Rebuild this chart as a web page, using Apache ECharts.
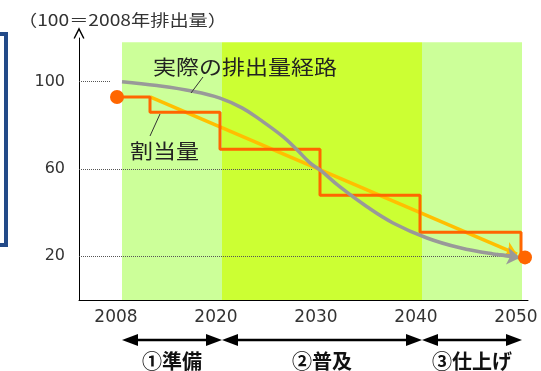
<!DOCTYPE html>
<html>
<head>
<meta charset="utf-8">
<script src="https://cdn.jsdelivr.net/npm/echarts@6/dist/echarts.min.js"></script>
<style>html,body{margin:0;padding:0;background:#fff;}#c{width:541px;height:371px;}</style>
</head>
<body>
<div id="c"></div>
<script>
// x positions are in "period units": 0=2008, 1=2020, 2=2030, 3=2040, 4=2050
const xTickPos = [0, 1, 2, 3, 4];
const xTickLabels = ['2008', '2020', '2030', '2040', '2050'];
const yTickValues = [20, 60, 100];

const titleText = '（100＝2008年排出量）';

// phases (bands)
const phaseEdges = [0, 1, 3, 4];
const phaseLabels = ['①準備', '②普及', '③仕上げ'];
const bandTop = 118;

// actual emission path (gray curve)
const actualX = [0, 0.35, 0.71, 0.98, 1.2, 1.38, 1.61, 1.75, 1.88, 1.98, 2.18, 2.45, 2.71, 3.05, 3.38, 3.71, 3.9];
const actualY = [100, 98.2, 95.6, 92.5, 88, 82.6, 74.8, 68.8, 62.8, 59.6, 51.8, 42.7, 35.3, 28.4, 23.9, 21.1, 20.2];
const actualArrowFrom = [3.75, 20.8];
const actualArrowTo = [3.98, 19.4];

// allocation (orange step)
const allocX = [-0.05, 0.28, 0.98, 1.98, 2.98, 3.99];
const allocY = [93, 86, 69, 48, 31, 20];
const dotX = [-0.05, 4.03];
const dotY = [93, 19.5];

// straight target (yellow arrow)
const targetFrom = [0.28, 93];
const targetTo = [3.95, 21];

// dotted guide lines from the axis to the curve
const guideLevels = [100, 60, 20];
const guideEnds = [-0.12, 1.9, 3.83];

const chart = echarts.init(document.getElementById('c'), null, {renderer: 'canvas'});

const option = {
  animation: false,
  backgroundColor: '#ffffff',
  grid: {left: 79, right: 13, top: 38, bottom: 71},
  xAxis: {
    type: 'value', min: -0.43, max: 4.06,
    axisLine: {show: true, onZero: false, lineStyle: {color: '#000', width: 1}},
    axisTick: {show: false},
    splitLine: {show: false},
    axisLabel: {
      customValues: xTickPos,
      formatter: v => { const i = xTickPos.indexOf(Math.round(v * 100) / 100); return i >= 0 ? xTickLabels[i] : ''; },
      fontFamily: 'DejaVu Sans', fontSize: 17, color: '#333', margin: 9, padding: [0, 12, 0, 0]
    }
  },
  yAxis: {
    type: 'value', min: 0, max: 120,
    axisLine: {show: true, onZero: false, lineStyle: {color: '#000', width: 1},
      symbol: ['none', 'path://M0,12 L6,0 L12,12 L10.6,12.8 L6,3.6 L1.4,12.8 Z'], symbolSize: [11, 13], symbolOffset: [0, 5]},
    axisTick: {show: false},
    splitLine: {show: false},
    axisLabel: {
      customValues: yTickValues,
      fontFamily: 'DejaVu Sans', fontSize: 16, color: '#333', margin: 14
    }
  },
  series: [
    {
      type: 'line', data: [], z: 0, silent: true,
      markArea: {
        silent: true,
        data: phaseLabels.map((p, i) => [
          {xAxis: phaseEdges[i], yAxis: 0, itemStyle: {color: i === 1 ? '#ccff33' : '#ccff99'}},
          {xAxis: phaseEdges[i + 1], yAxis: bandTop}
        ])
      }
    },
    {
      type: 'line', data: [], z: 1, silent: true,
      markLine: {
        silent: true, symbol: ['none', 'none'], label: {show: false},
        lineStyle: {color: '#555', type: 'dotted', width: 1},
        data: guideLevels.map((lv, i) => [{coord: [-0.43, lv]}, {coord: [guideEnds[i], lv]}])
      }
    },
    {
      name: '目標', type: 'lines', coordinateSystem: 'cartesian2d', z: 3,
      polyline: false,
      symbol: ['none', 'arrow'], symbolSize: 12,
      lineStyle: {color: '#ffbf00', width: 3.5, opacity: 1},
      data: [{coords: [targetFrom, targetTo]}]
    },
    {
      name: '割当量', type: 'line', step: 'end', z: 4,
      data: allocX.map((x, i) => [x, allocY[i]]),
      showSymbol: false, symbol: 'none',
      lineStyle: {color: '#ff6600', width: 3}
    },
    {
      name: '実際の排出量経路', type: 'line', smooth: 0.4, z: 5,
      data: actualX.map((x, i) => [x, actualY[i]]),
      showSymbol: false, symbol: 'none',
      lineStyle: {color: '#999999', width: 3.5},
      markLine: {
        silent: true, symbol: ['none', 'arrow'], symbolSize: 13, label: {show: false},
        lineStyle: {color: '#999999', width: 3.5, type: 'solid'},
        data: [[{coord: actualArrowFrom}, {coord: actualArrowTo}]]
      }
    },
    {
      type: 'scatter', z: 6, symbolSize: 14,
      itemStyle: {color: '#ff6600', opacity: 1},
      data: dotX.map((x, i) => [x, dotY[i]])
    }
  ]
};
chart.setOption(option);

const px = v => chart.convertToPixel({xAxisIndex: 0, yAxisIndex: 0}, [v, 0])[0];
const arrowY = 340;
const labelY = 361;
const graphics = [];
const Z = 100;

// left dark-blue bracket
graphics.push({type: 'polyline', z: Z, shape: {points: [[0, 34], [6, 34], [6, 245], [0, 245]]}, style: {stroke: '#234a88', lineWidth: 4, fill: null}});

// title
graphics.push({type: 'text', z: Z, x: 18, y: 20, scaleX: 1.2, style: {text: titleText, fontFamily: 'Noto Sans CJK JP', fontSize: 16, fill: '#333', align: 'left', verticalAlign: 'middle'}});

// annotations
graphics.push({type: 'text', z: Z, x: 153, y: 67, scaleX: 1.15, style: {text: '実際の排出量経路', fontFamily: 'Noto Sans CJK JP', fontSize: 20, fill: '#222', align: 'left', verticalAlign: 'middle'}});
graphics.push({type: 'line', z: Z, shape: {x1: 203, y1: 77, x2: 191, y2: 93}, style: {stroke: '#333', lineWidth: 1}});
graphics.push({type: 'text', z: Z, x: 130, y: 151, scaleX: 1.15, style: {text: '割当量', fontFamily: 'Noto Sans CJK JP', fontSize: 20, fill: '#222', align: 'left', verticalAlign: 'middle'}});
graphics.push({type: 'line', z: Z, shape: {x1: 160, y1: 114, x2: 150, y2: 136}, style: {stroke: '#333', lineWidth: 1}});

// phase arrows & labels
for (let i = 0; i < phaseLabels.length; i++) {
  const a = px(phaseEdges[i]), b = px(phaseEdges[i + 1]);
  const hl = 16, hw = 6;
  graphics.push({type: 'line', z: Z, shape: {x1: a + hl - 2, y1: arrowY, x2: b - hl + 2, y2: arrowY}, style: {stroke: '#000', lineWidth: 2.5}});
  graphics.push({type: 'polygon', z: Z, shape: {points: [[a, arrowY], [a + hl, arrowY - hw], [a + hl, arrowY + hw]]}, style: {fill: '#000'}});
  graphics.push({type: 'polygon', z: Z, shape: {points: [[b, arrowY], [b - hl, arrowY - hw], [b - hl, arrowY + hw]]}, style: {fill: '#000'}});
  graphics.push({type: 'text', z: Z, x: (a + b) / 2, y: labelY, style: {text: phaseLabels[i], fontFamily: 'Noto Sans CJK JP', fontWeight: 'bold', fontSize: 20, fill: '#111', align: 'center', verticalAlign: 'middle'}});
}
chart.setOption({graphic: graphics});
</script>
</body>
</html>
